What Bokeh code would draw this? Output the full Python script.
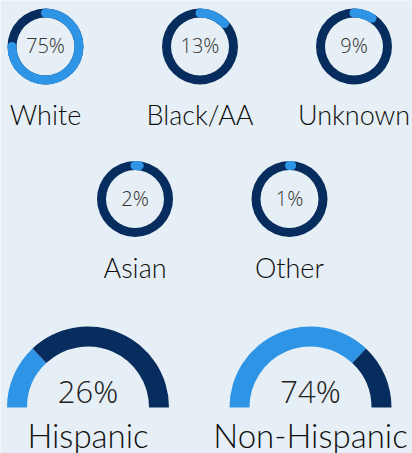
from math import pi
from bokeh.plotting import figure
from bokeh.models import Range1d, ColumnDataSource
from bokeh.core.properties import value
from bokeh.embed import file_html
from bokeh.resources import INLINE

# ---- data ----
race_labels = ["White", "Black/AA", "Unknown", "Asian", "Other"]
race_values = [75, 13, 9, 2, 1]
eth_labels = ["Hispanic", "Non-Hispanic"]
eth_values = [26, 74]

# ---- styles ----
W, H = 412, 453
BG = "#e6eff5"
NAVY = "#072d5f"
BLUE = "#2e95e6"
LABEL_FONT = "Lato Light, Lato"
PCT_FONT = "Open Sans Light, Open Sans"
SHIFT = 9  # baseline compensation

p = figure(width=W, height=H, output_backend="svg", toolbar_location=None,
           x_range=Range1d(0, W), y_range=Range1d(0, H), min_border=0)
p.axis.visible = False
p.grid.visible = False
p.outline_line_color = None
p.background_fill_color = BG
p.border_fill_color = BG

def Y(py):
    return H - py

# donut layout (pixel centres)
cx = [45, 199.5, 353.5, 134.5, 289]
cy = [46, 46, 46, 198.5, 198.5]
R_mid = 33.5
RW = 9

src = ColumnDataSource(dict(
    x=cx, y=[Y(v) for v in cy],
    start=[pi / 2] * 5,
    end=[pi / 2 - 2 * pi * v / 100 for v in race_values],
    pct=[f"{v}%" for v in race_values],
    lab=race_labels,
    ly=[Y(v + 77 - SHIFT) for v in cy],
    py=[Y(v + 8 - SHIFT) for v in cy],
))
p.annulus(x="x", y="y", inner_radius=R_mid - RW / 2, outer_radius=R_mid + RW / 2,
          fill_color=NAVY, line_color=None, source=src)
p.arc(x="x", y="y", radius=R_mid, start_angle="start", end_angle="end",
      direction="clock", line_color=BLUE, line_width=RW, line_cap="round", source=src)
p.text(x="x", y="py", text="pct", source=src, text_align="center",
       text_baseline="alphabetic", text_font=value(PCT_FONT), text_font_size="20px",
       text_color="#333333")
p.text(x="x", y="ly", text="lab", source=src, text_align="center",
       text_baseline="alphabetic", text_font=value(LABEL_FONT), text_font_size="27px",
       text_color="#0e0e0e")

# gauges
gx = [87.5, 310]
gy = Y(407)
R_out, R_in = 81, 61
gsrc = ColumnDataSource(dict(
    x=gx, y=[gy, gy],
    split=[pi - pi * v / 100 for v in eth_values],
    pct=[f"{v}%" for v in eth_values],
    lab=eth_labels,
))
p.annular_wedge(x="x", y="y", inner_radius=R_in, outer_radius=R_out,
                start_angle=pi, end_angle="split", direction="clock",
                fill_color=BLUE, line_color=None, source=gsrc)
p.annular_wedge(x="x", y="y", inner_radius=R_in, outer_radius=R_out,
                start_angle="split", end_angle=0, direction="clock",
                fill_color=NAVY, line_color=None, source=gsrc)
p.text(x="x", y=Y(399 - SHIFT), text="pct", source=gsrc, text_align="center",
       text_baseline="alphabetic", text_font=value(PCT_FONT), text_font_size="31px",
       text_color="#222222")
p.text(x="x", y=Y(443 - SHIFT), text="lab", source=gsrc, text_align="center",
       text_baseline="alphabetic", text_font=value(LABEL_FONT), text_font_size="33px",
       text_color="#0e0e0e")

open("out.html", "w").write(file_html(p, INLINE))
